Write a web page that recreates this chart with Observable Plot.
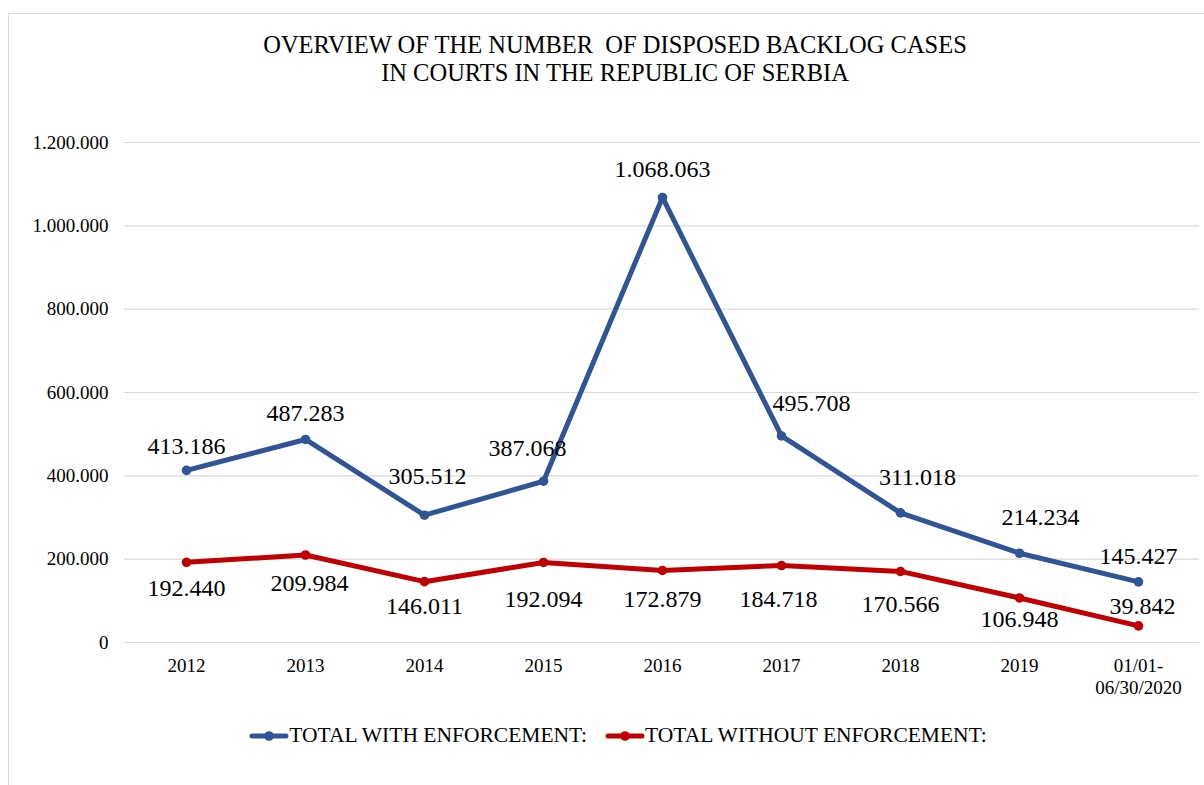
<!DOCTYPE html>
<html>
<head>
<meta charset="utf-8">
<script src="https://cdn.jsdelivr.net/npm/d3@7"></script>
<script src="https://cdn.jsdelivr.net/npm/@observablehq/plot@0.6"></script>
<style>
  html, body { margin: 0; padding: 0; background: #fff; }
  body { width: 1204px; height: 785px; position: relative; overflow: hidden; font-family: "Liberation Serif", "Times New Roman", serif; }
  #frame { position: absolute; left: 8px; top: 13px; width: 1240px; height: 820px; border: 1.5px solid #d9d9d9; box-sizing: border-box; }
  #title { position: absolute; left: 0; top: 31px; width: 1230px; text-align: center; font-size: 24.5px; line-height: 28px; color: #000; }
  #chart { position: absolute; left: 0; top: 100px; }
  #chart svg text { font-family: "Liberation Serif", "Times New Roman", serif !important; font-variant: normal !important; }
  #legend { position: absolute; left: 0; top: 723px; width: 1236px; text-align: center; font-size: 21.5px; color: #000; white-space: nowrap; }
  .item { display: inline-flex; align-items: center; margin: 0 9px; }
  .item svg { margin-right: 0px; }
</style>
</head>
<body>
<div id="frame"></div>
<div id="title">OVERVIEW OF THE NUMBER&nbsp; OF DISPOSED BACKLOG CASES<br>IN COURTS IN THE REPUBLIC OF SERBIA</div>
<div id="chart"></div>
<div id="legend"></div>
<script>
// ---- data ----
const categories = ["2012", "2013", "2014", "2015", "2016", "2017", "2018", "2019", "01/01-\n06/30/2020"];
const seriesNames = ["TOTAL WITH ENFORCEMENT:", "TOTAL WITHOUT ENFORCEMENT:"];
const withEnforcement = [413186, 487283, 305512, 387068, 1068063, 495708, 311018, 214234, 145427];
const withoutEnforcement = [192440, 209984, 146011, 192094, 172879, 184718, 170566, 106948, 39842];
const yTicks = [0, 200000, 400000, 600000, 800000, 1000000, 1200000];

// ---- layout of data labels (pixel nudges, not data) ----
const withLabelDx = [0, 0, 3, -16, 0, 30, 17, 21, 0];
const withLabelDy = [-24, -26, -39, -33, -28, -33, -36, -36, -26];
const withoutLabelDx = [0, 4, 0, 0, 0, -3, 0, 0, 4];
const withoutLabelDy = [26, 28, 25, 37, 29, 34, 33, 21, -20];

const colors = ["#2F5597", "#C00000"];

const fmt = d3.formatLocale({decimal: ",", thousands: ".", grouping: [3], currency: ["", ""]}).format(",d");

const rows = [];
categories.forEach((c, i) => {
  rows.push({cat: c, series: seriesNames[0], value: withEnforcement[i], dx: withLabelDx[i], dy: withLabelDy[i]});
  rows.push({cat: c, series: seriesNames[1], value: withoutEnforcement[i], dx: withoutLabelDx[i], dy: withoutLabelDy[i]});
});

const labelMarks = rows.map(d => Plot.text([d], {
  x: "cat", y: "value", text: r => fmt(r.value),
  dx: d.dx, dy: d.dy, fontSize: 24, fill: "#000", fontFamily: "Liberation Serif"
}));

const chart = Plot.plot({
  width: 1204,
  height: 602,
  marginLeft: 124,
  marginRight: 5,
  marginTop: 42,
  marginBottom: 60,
  style: {fontFamily: "Liberation Serif", fontSize: "19px", color: "#000", background: "transparent", overflow: "visible"},
  x: {type: "point", domain: categories, padding: 0.5, label: null},
  y: {domain: [0, 1200000], label: null},
  color: {domain: seriesNames, range: colors},
  marks: [
    Plot.ruleY(yTicks, {stroke: "#d9d9d9", strokeWidth: 1.2}),
    Plot.axisY({ticks: yTicks, tickFormat: fmt, tickSize: 0, tickPadding: 16, label: null, fontSize: 19}),
    Plot.axisX({tickSize: 0, tickPadding: 13, label: null, fontSize: 19, lineHeight: 1.2}),
    Plot.line(rows, {x: "cat", y: "value", z: "series", stroke: "series", strokeWidth: 5, strokeLinejoin: "round", strokeLinecap: "round"}),
    Plot.dot(rows, {x: "cat", y: "value", fill: "series", r: 4.8}),
    ...labelMarks
  ]
});
document.getElementById("chart").appendChild(chart);

// ---- legend ----
const legend = document.getElementById("legend");
seriesNames.forEach((name, i) => {
  const item = document.createElement("span");
  item.className = "item";
  item.innerHTML = `<svg width="40" height="14"><line x1="3" y1="7" x2="37" y2="7" stroke="${colors[i]}" stroke-width="5" stroke-linecap="round"/><circle cx="20" cy="7" r="4.8" fill="${colors[i]}"/></svg><span>${name}</span>`;
  legend.appendChild(item);
});
</script>
</body>
</html>
